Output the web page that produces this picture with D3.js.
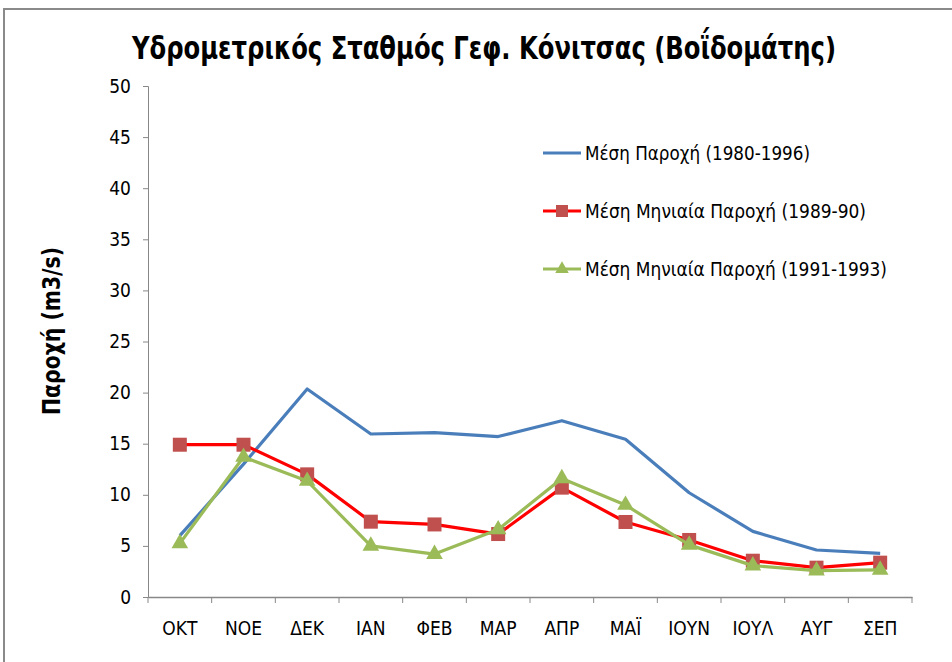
<!DOCTYPE html>
<html>
<head>
<meta charset="utf-8">
<script src="https://cdn.jsdelivr.net/npm/d3@7"></script>
<style>
  body { margin: 0; background: #fff; }
  svg text { font-family: "Liberation Sans Narrow", "DejaVu Sans Condensed", "Open Sans", sans-serif; fill: #000; }
</style>
</head>
<body>
<svg id="chart" width="952" height="662"></svg>
<script>
const months = ["ΟΚΤ", "ΝΟΕ", "ΔΕΚ", "ΙΑΝ", "ΦΕΒ", "ΜΑΡ", "ΑΠΡ", "ΜΑΪ", "ΙΟΥΝ", "ΙΟΥΛ", "ΑΥΓ", "ΣΕΠ"];
const meanFlow = [6.0, 13.0, 20.35, 15.95, 16.08, 15.7, 17.25, 15.43, 10.2, 6.42, 4.6, 4.27];
const monthly8990 = [14.9, 14.9, 12.0, 7.37, 7.1, 6.16, 10.7, 7.34, 5.58, 3.55, 2.87, 3.36];
const monthly9193 = [5.25, 13.7, 11.35, 5.0, 4.2, 6.6, 11.6, 9.0, 5.1, 3.07, 2.58, 2.65];
const yTicks = [0, 5, 10, 15, 20, 25, 30, 35, 40, 45, 50];
const seriesNames = ["Μέση Παροχή (1980-1996)", "Μέση Μηνιαία Παροχή (1989-90)", "Μέση Μηνιαία Παροχή (1991-1993)"];

const svg = d3.select("#chart");
const plot = { left: 148, right: 912, top: 86, bottom: 597 };

// outer frame (top and left edges visible)
svg.append("path")
  .attr("d", "M4,662 L4,9 L952,9")
  .attr("fill", "none")
  .attr("stroke", "#8a8a8a")
  .attr("stroke-width", 2);

svg.append("text")
  .attr("x", 484).attr("y", 59)
  .attr("text-anchor", "middle")
  .attr("font-size", 31).attr("font-weight", "bold")
  .attr("textLength", 704).attr("lengthAdjust", "spacingAndGlyphs")
  .text("Υδρομετρικός Σταθμός Γεφ. Κόνιτσας (Βοΐδομάτης)");

const x = d3.scaleBand().domain(months).range([plot.left, plot.right]);
const y = d3.scaleLinear().domain([0, 50]).range([plot.bottom, plot.top]);

const yAxis = svg.append("g")
  .attr("transform", `translate(${plot.left},0)`)
  .call(d3.axisLeft(y).tickValues(yTicks).tickSize(5).tickPadding(12));
yAxis.select(".domain").attr("stroke", "#888");
yAxis.selectAll(".tick line").attr("stroke", "#888");
yAxis.selectAll(".tick text").attr("font-size", 19).attr("fill", "#000");

const xAxis = svg.append("g")
  .attr("transform", `translate(0,${plot.bottom})`)
  .call(d3.axisBottom(x).tickSize(0).tickPadding(25));
xAxis.select(".domain").attr("stroke", "#888").attr("stroke-width", 1.5);
xAxis.selectAll(".tick text").attr("font-size", 19).attr("fill", "#000");
// tick marks sit between categories
svg.append("g").selectAll("line")
  .data(months.concat(["end"]))
  .join("line")
  .attr("x1", (d, i) => plot.left + i * x.step())
  .attr("x2", (d, i) => plot.left + i * x.step())
  .attr("y1", plot.bottom).attr("y2", plot.bottom + 6)
  .attr("stroke", "#888");

svg.append("text")
  .attr("transform", "translate(60,331) rotate(-90)")
  .attr("text-anchor", "middle")
  .attr("font-size", 24).attr("font-weight", "bold")
  .attr("textLength", 168).attr("lengthAdjust", "spacingAndGlyphs")
  .text("Παροχή (m3/s)");

const cx = d => x(d) + x.bandwidth() / 2;
const line = d3.line().x((d, i) => cx(months[i])).y(d => y(d));

const triangle = d3.symbol().type(d3.symbolTriangle);

function drawSeries(values, color, marker, markerColor) {
  svg.append("path")
    .datum(values)
    .attr("d", line)
    .attr("fill", "none")
    .attr("stroke", color)
    .attr("stroke-width", 3.2)
    .attr("stroke-linejoin", "round");
  if (marker === "square") {
    svg.append("g").selectAll("rect")
      .data(values)
      .join("rect")
      .attr("x", (d, i) => cx(months[i]) - 7)
      .attr("y", d => y(d) - 7)
      .attr("width", 14).attr("height", 14)
      .attr("fill", markerColor);
  } else if (marker === "triangle") {
    svg.append("g").selectAll("path")
      .data(values)
      .join("path")
      .attr("d", triangle.size(120))
      .attr("transform", (d, i) => `translate(${cx(months[i])},${y(d)})`)
      .attr("fill", markerColor);
  }
}

drawSeries(meanFlow, "#4a7ebb", null);
drawSeries(monthly8990, "#ff0000", "square", "#c0504d");
drawSeries(monthly9193, "#9bbb59", "triangle", "#9bbb59");

// legend
const legendItems = [
  { name: seriesNames[0], color: "#4a7ebb", marker: null, y: 153, w: 225 },
  { name: seriesNames[1], color: "#ff0000", marker: "square", mc: "#c0504d", y: 211, w: 281 },
  { name: seriesNames[2], color: "#9bbb59", marker: "triangle", mc: "#9bbb59", y: 269, w: 302 }
];
const legend = svg.append("g");
legendItems.forEach(item => {
  legend.append("line")
    .attr("x1", 543).attr("x2", 581)
    .attr("y1", item.y).attr("y2", item.y)
    .attr("stroke", item.color).attr("stroke-width", 3.2);
  if (item.marker === "square") {
    legend.append("rect")
      .attr("x", 556).attr("y", item.y - 6)
      .attr("width", 12).attr("height", 12)
      .attr("fill", item.mc);
  } else if (item.marker === "triangle") {
    legend.append("path")
      .attr("d", d3.symbol().type(d3.symbolTriangle).size(80)())
      .attr("transform", `translate(562,${item.y})`)
      .attr("fill", item.mc);
  }
  legend.append("text")
    .attr("x", 585).attr("y", item.y + 7)
    .attr("font-size", 19)
    .attr("textLength", item.w).attr("lengthAdjust", "spacingAndGlyphs")
    .text(item.name);
});
</script>
</body>
</html>
